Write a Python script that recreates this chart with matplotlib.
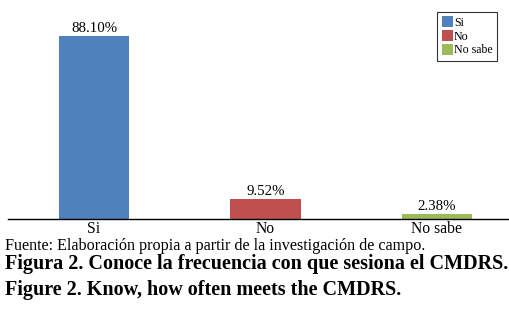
import matplotlib
matplotlib.use("Agg")
import matplotlib.pyplot as plt
from matplotlib.patches import Patch

categories = ["Si", "No", "No sabe"]
values = [88.10, 9.52, 2.38]
labels = ["88.10%", "9.52%", "2.38%"]
colors = ["#4F81BD", "#C0504D", "#9BBB59"]

plt.rcParams['font.family'] = ['Liberation Serif', 'DejaVu Serif']

W, H = 510, 314
fig = plt.figure(figsize=(W/100, H/100), dpi=100)
ax_left, ax_right = 8.25, 522.75
ax_bottom, ax_top = 219, 0
ax = fig.add_axes([ax_left/W, 1-ax_bottom/H, (ax_right-ax_left)/W, (ax_bottom-ax_top)/H])

x = list(range(len(categories)))
bars = ax.bar(x, values, width=0.41, color=colors)
ax.set_xlim(-0.5, 2.5)
ax.set_ylim(0, 105.4)
for xi, v, lab in zip(x, values, labels):
    ax.annotate(lab, (xi, v), xytext=(0, 3), textcoords='offset points',
                ha='center', va='baseline', fontsize=10.7)

for s in ['top', 'right', 'left']:
    ax.spines[s].set_visible(False)
ax.spines['bottom'].set_linewidth(1.0)
ax.set_yticks([])
ax.set_xticks(x)
ax.set_xticklabels(categories, fontsize=11.3)
ax.tick_params(axis='x', length=0, pad=1.5)

handles = [Patch(facecolor=c, edgecolor='none') for c in colors]
leg = fig.legend(handles, categories, loc='upper right', bbox_to_anchor=(497/W, 1-12/H),
                 fontsize=8.6, frameon=True, fancybox=False, handlelength=1.0, handleheight=1.05,
                 handletextpad=0.05, borderpad=0.35, labelspacing=0.1, borderaxespad=0)
leg.get_frame().set_edgecolor('black')
leg.get_frame().set_linewidth(0.8)

fig.text(5/W, 1-250/H, "Fuente: Elaboración propia a partir de la investigación de campo.",
         fontsize=11.6, va='baseline', ha='left')
fig.text(5/W, 1-269/H, "Figura 2. Conoce la frecuencia con que sesiona el CMDRS.",
         fontsize=14.5, fontweight='bold', va='baseline', ha='left')
fig.text(5/W, 1-295/H, "Figure 2. Know, how often meets the CMDRS.",
         fontsize=14.5, fontweight='bold', va='baseline', ha='left')

fig.savefig("out.png", dpi=100)
